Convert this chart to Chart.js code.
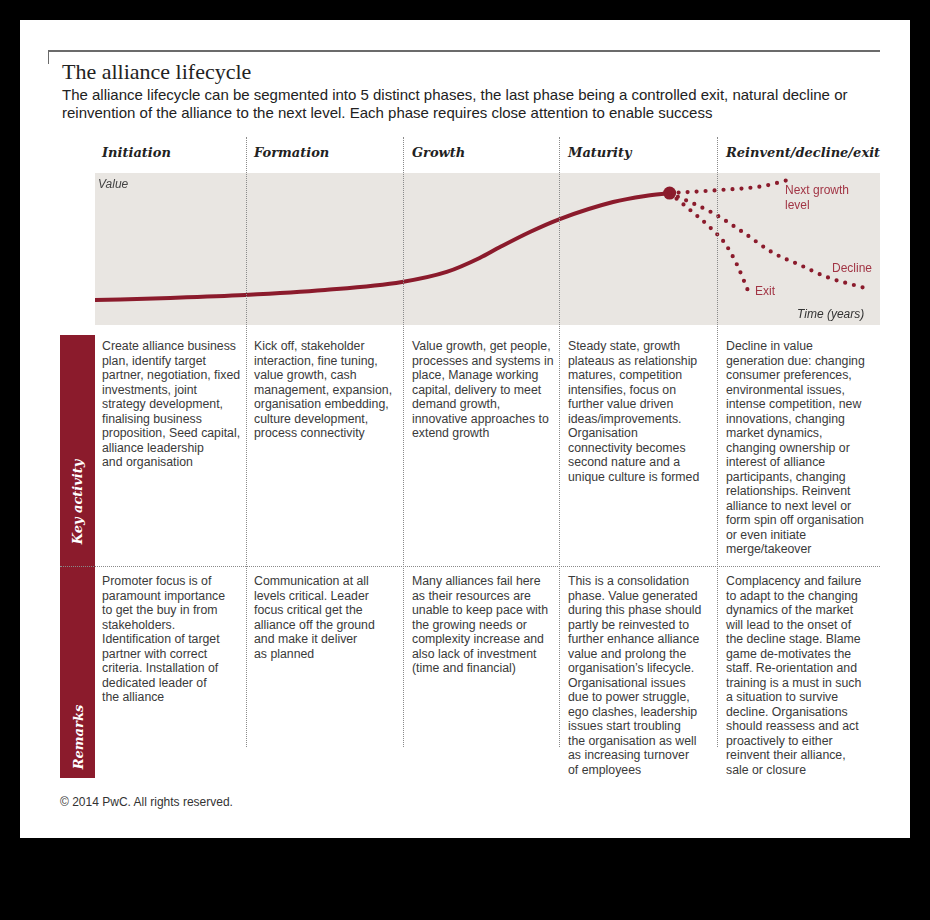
<!DOCTYPE html>
<html>
<head>
<meta charset="utf-8">
<script src="https://cdn.jsdelivr.net/npm/chart.js@4.4.1/dist/chart.umd.min.js"></script>
<style>
  html, body { margin: 0; padding: 0; background: #000; }
  body { width: 930px; height: 920px; position: relative; overflow: hidden; font-family: "Liberation Sans", Arial, sans-serif; }
  #panel { position: absolute; left: 20px; top: 20px; width: 890px; height: 818px; background: #fff; }
  .abs { position: absolute; white-space: nowrap; }
  #rule { position: absolute; left: 48px; top: 50px; width: 832px; height: 0; border-top: 2px solid #6b6b6b; }
  #tick { position: absolute; left: 48px; top: 50px; width: 0; height: 14px; border-left: 1.5px solid #6b6b6b; }
  #title { left: 62px; top: 59px; font-family: "Liberation Serif", "Times New Roman", serif; font-size: 22px; color: #222; }
  .sub { left: 62px; font-size: 15px; color: #222; }
  .hdr { top: 145px; font-family: "DejaVu Serif", serif; font-weight: bold; font-style: italic; font-size: 13px; color: #222; }
  .sep { position: absolute; top: 137px; height: 610px; width: 0; border-left: 1px dotted #8a8a8a; z-index: 3; }
  #hsep { position: absolute; left: 60px; top: 566px; width: 820px; height: 0; border-top: 1px dotted #8a8a8a; z-index: 3; }
  #side { position: absolute; left: 60px; top: 335px; width: 35px; height: 443px; background: #8b1b2c; }
  .rot { position: absolute; transform: translate(-50%, -50%) rotate(-90deg); font-family: "DejaVu Serif", serif; font-weight: bold; font-style: italic; font-size: 13px; color: #fff; white-space: nowrap; z-index: 4; }
  .cell { position: absolute; font-size: 12.3px; line-height: 14.5px; color: #3a3a3a; white-space: nowrap; }
  #chartBox { position: absolute; left: 95px; top: 173px; width: 785px; height: 152px; }
  .lbl { position: absolute; font-size: 12px; white-space: nowrap; z-index: 4; }
  #foot { left: 60px; top: 795px; font-size: 12px; color: #333; }
</style>
</head>
<body>
<div id="panel"></div>
<div id="rule"></div>
<div id="tick"></div>
<div id="root"></div>
<div id="chartBox"><canvas id="c" width="785" height="152"></canvas></div>

<script>
// ---------- data ----------
const phases = ["Initiation", "Formation", "Growth", "Maturity", "Reinvent/decline/exit"];

// main value curve (x = time 0..100, y = value 0..100)
const curveX = [0, 9.6, 19.1, 29.3, 39.1, 44.8, 49.0, 51.6, 55.4, 59.2, 66.0, 70.1, 73.2];
const curveY = [16.4, 17.8, 19.7, 23.0, 28.3, 34.9, 44.1, 51.3, 61.2, 69.7, 80.9, 84.9, 86.8];

// dotted scenario branches
const nextGrowthX = [73.2, 79.6, 85.1, 88.3];
const nextGrowthY = [86.8, 88.8, 91.4, 95.4];
const declineX = [73.2, 78.7, 82.5, 86.4, 89.8, 93.2, 98.1];
const declineY = [86.8, 73.7, 61.2, 47.4, 39.5, 31.6, 24.3];
const exitX = [73.2, 75.8, 78.3, 80.3, 81.8, 83.2];
const exitY = [86.8, 75.7, 64.5, 53.3, 39.5, 22.4];

const branchLabels = ["Next growth", "level", "Decline", "Exit"];
const axisLabels = ["Value", "Time (years)"];
const rowLabels = ["Key activity", "Remarks"];

const titleText = "The alliance lifecycle";
const subtitleLines = [
  "The alliance lifecycle can be segmented into 5 distinct phases, the last phase being a controlled exit, natural decline or",
  "reinvention of the alliance to the next level. Each phase requires close attention to enable success"
];
const footText = "\u00A9 2014 PwC. All rights reserved.";

const keyActivity = [
  ["Create alliance business", "plan, identify target", "partner, negotiation, fixed", "investments, joint", "strategy development,", "finalising business", "proposition, Seed capital,", "alliance leadership", "and organisation"],
  ["Kick off, stakeholder", "interaction, fine tuning,", "value growth, cash", "management, expansion,", "organisation embedding,", "culture development,", "process connectivity"],
  ["Value growth, get people,", "processes and systems in", "place, Manage working", "capital, delivery to meet", "demand growth,", "innovative approaches to", "extend growth"],
  ["Steady state, growth", "plateaus as relationship", "matures, competition", "intensifies, focus on", "further value driven", "ideas/improvements.", "Organisation", "connectivity becomes", "second nature and a", "unique culture is formed"],
  ["Decline in value", "generation due: changing", "consumer preferences,", "environmental issues,", "intense competition, new", "innovations, changing", "market dynamics,", "changing ownership or", "interest of alliance", "participants, changing", "relationships. Reinvent", "alliance to next level or", "form spin off organisation", "or even initiate", "merge/takeover"]
];
const remarks = [
  ["Promoter focus is of", "paramount importance", "to get the buy in from", "stakeholders.", "Identification of target", "partner with correct", "criteria. Installation of", "dedicated leader of", "the alliance"],
  ["Communication at all", "levels critical. Leader", "focus critical get the", "alliance off the ground", "and make it deliver", "as planned"],
  ["Many alliances fail here", "as their resources are", "unable to keep pace with", "the growing needs or", "complexity increase and", "also lack of investment", "(time and financial)"],
  ["This is a consolidation", "phase. Value generated", "during this phase should", "partly be reinvested to", "further enhance alliance", "value and prolong the", "organisation\u2019s lifecycle.", "Organisational issues", "due to power struggle,", "ego clashes, leadership", "issues start troubling", "the organisation as well", "as increasing turnover", "of employees"],
  ["Complacency and failure", "to adapt to the changing", "dynamics of the market", "will lead to the onset of", "the decline stage. Blame", "game de-motivates the", "staff. Re-orientation and", "training is a must in such", "a situation to survive", "decline. Organisations", "should reassess and act", "proactively to either", "reinvent their alliance,", "sale or closure"]
];

// ---------- layout (HTML text) ----------
const root = document.getElementById("root");
function add(cls, html, css, id) {
  const d = document.createElement("div");
  d.className = cls;
  if (id) d.id = id;
  d.innerHTML = html;
  Object.assign(d.style, css || {});
  root.appendChild(d);
  return d;
}
const colX = [102, 254, 412, 568, 726];
const sepX = [246, 403, 559, 717];

add("abs", titleText, {}, "title");
add("abs sub", subtitleLines[0], { top: "86px" });
add("abs sub", subtitleLines[1], { top: "104px" });
phases.forEach((p, i) => add("abs hdr", p, { left: colX[i] + "px" }));
sepX.forEach(x => add("sep", "", { left: x + "px" }));
add("", "", {}, "hsep");
add("", "", {}, "side");
add("rot", rowLabels[0], { left: "77px", top: "502px" });
add("rot", rowLabels[1], { left: "78px", top: "737px" });
keyActivity.forEach((lines, i) => add("cell", lines.join("<br>"), { left: colX[i] + "px", top: "339px" }));
remarks.forEach((lines, i) => add("cell", lines.join("<br>"), { left: colX[i] + "px", top: "574px" }));
add("abs", footText, {}, "foot");

// chart overlay labels
add("lbl", axisLabels[0], { left: "98px", top: "177px", fontStyle: "italic", color: "#444" });
add("lbl", axisLabels[1], { left: "797px", top: "307px", fontStyle: "italic", color: "#333" });
const red2 = "#a23545";
add("lbl", branchLabels[0] + "<br>" + branchLabels[1], { left: "785px", top: "183px", lineHeight: "15px", color: red2 });
add("lbl", branchLabels[2], { left: "832px", top: "261px", color: red2 });
add("lbl", branchLabels[3], { left: "755px", top: "284px", color: red2 });

// ---------- chart ----------
const red = "#8b1b2c";
const toPts = (xs, ys) => xs.map((x, i) => ({ x: x, y: ys[i] }));
const dotted = (xs, ys) => ({
  data: toPts(xs, ys),
  borderColor: red,
  borderWidth: 4.2,
  borderDash: [0, 9],
  borderCapStyle: "round",
  pointRadius: 0,
  cubicInterpolationMode: "monotone",
  fill: false
});

const bgPlugin = {
  id: "bg",
  beforeDraw(chart) {
    const a = chart.chartArea, ctx = chart.ctx;
    ctx.save();
    ctx.fillStyle = "#e9e6e2";
    ctx.fillRect(a.left, a.top, a.right - a.left, a.bottom - a.top);
    ctx.restore();
  }
};

new Chart(document.getElementById("c"), {
  type: "scatter",
  data: {
    datasets: [
      dotted(nextGrowthX, nextGrowthY),
      dotted(declineX, declineY),
      dotted(exitX, exitY),
      {
        data: toPts(curveX, curveY),
        borderColor: red,
        borderWidth: 4,
        borderCapStyle: "round",
        cubicInterpolationMode: "monotone",
        pointRadius: ctx => (ctx.dataIndex === curveX.length - 1 ? 6.5 : 0),
        pointBackgroundColor: red,
        pointBorderWidth: 0,
        fill: false
      }
    ].map(d => Object.assign({ showLine: true }, d))
  },
  options: {
    responsive: false,
    animation: false,
    events: [],
    layout: { padding: 0, autoPadding: false },
    plugins: { legend: { display: false }, tooltip: { enabled: false } },
    scales: {
      x: { type: "linear", min: 0, max: 100, display: false },
      y: { type: "linear", min: 0, max: 100, display: false }
    }
  },
  plugins: [bgPlugin]
});
</script>
</body>
</html>
